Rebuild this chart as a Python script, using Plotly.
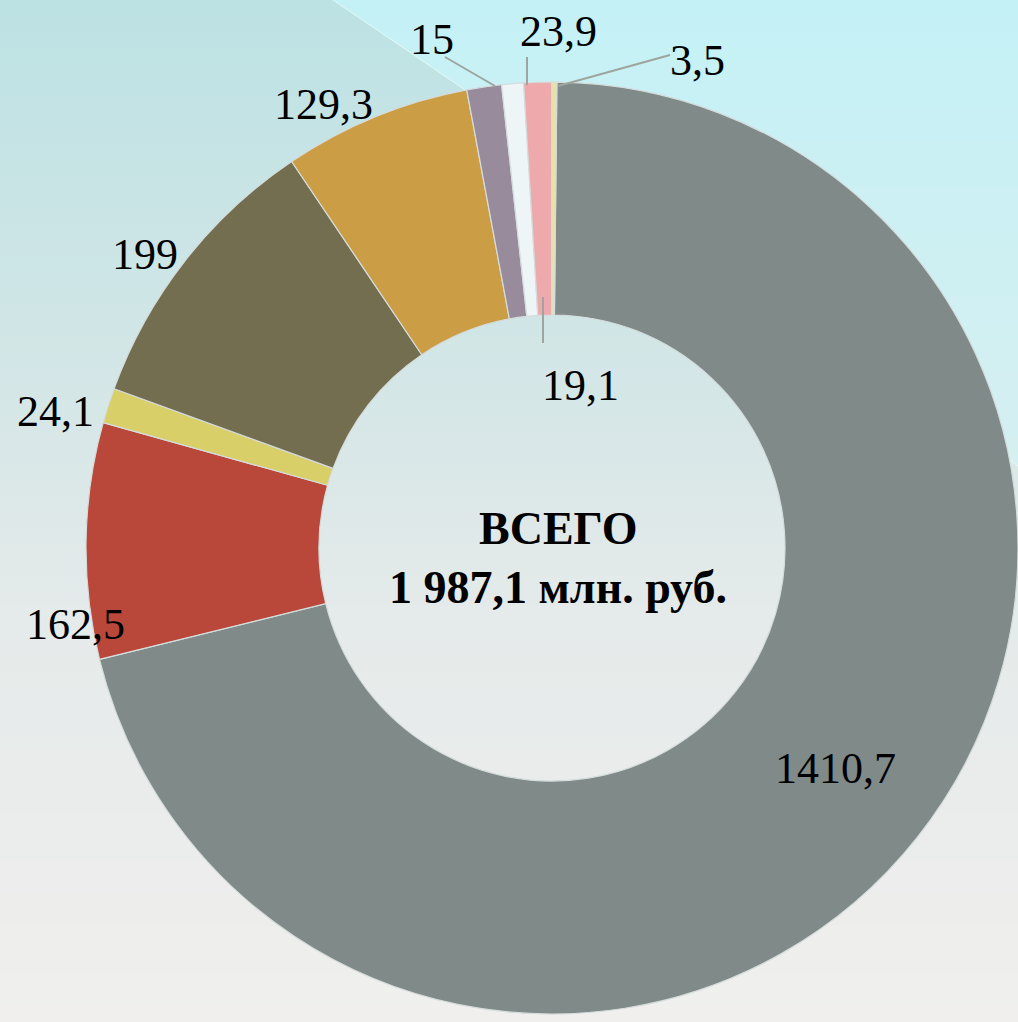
import plotly.graph_objects as go

# ---- data ----
categories = ["A", "B", "C", "D", "E", "F", "G", "H", "I"]
values = [1410.7, 162.5, 24.1, 199, 129.3, 23.9, 15, 19.1, 3.5]
colors = ["#7f8a89", "#b9483b", "#d8cf68", "#736e50", "#cb9e46",
          "#988b9c", "#eef5f7", "#eea9ac", "#e9e3a0"]
total_title = "ВСЕГО"
total_text = "1 987,1 млн. руб."

W, H = 1018, 1022
SERIF = "Liberation Serif, DejaVu Serif, Times New Roman, serif"

def fmt(v):
    s = ("%.1f" % v).rstrip("0").rstrip(".")
    return s.replace(".", ",")

def px(x):
    return x / W

def py(y):
    return 1 - y / H

def lerp(c1, c2, t):
    a = [int(c1[i:i + 2], 16) for i in (1, 3, 5)]
    b = [int(c2[i:i + 2], 16) for i in (1, 3, 5)]
    return "rgb(%d,%d,%d)" % tuple(round(a[k] + (b[k] - a[k]) * t) for k in range(3))

shapes = []
# vertical background gradient
n = 64
stops = [(0.0, "#bde2e4"), (0.3, "#cfe5e6"), (0.6, "#e5eaea"), (1.0, "#f0efed")]
for i in range(n):
    y0 = H * i / n
    y1 = H * (i + 1) / n + 1
    t = (i + 0.5) / n
    for j in range(len(stops) - 1):
        if stops[j][0] <= t <= stops[j + 1][0]:
            tt = (t - stops[j][0]) / (stops[j + 1][0] - stops[j][0])
            col = lerp(stops[j][1], stops[j + 1][1], tt)
            break
    shapes.append(dict(type="rect", xref="paper", yref="paper", x0=0, x1=1,
                       y0=py(y1), y1=py(y0), line=dict(width=0),
                       fillcolor=col, layer="below"))
# lighter cyan triangle at top right
x_start, slope = 333, 0.68
y_end = (W - x_start) * slope
m = 30
for i in range(m):
    y0 = y_end * i / m
    y1 = y_end * (i + 1) / m
    t = (i + 0.5) / m
    col = lerp("#c4f1f6", "#d6eff1", t)
    xa = x_start + y0 / slope
    xb = x_start + y1 / slope
    path = "M %f %f L %f %f L %f %f L %f %f Z" % (
        px(xa), py(y0), px(W), py(y0), px(W), py(y1 + 0.5), px(xb), py(y1 + 0.5))
    shapes.append(dict(type="path", xref="paper", yref="paper", path=path,
                       line=dict(width=0), fillcolor=col, layer="below"))
shapes.append(dict(type="line", xref="paper", yref="paper",
                   x0=px(x_start), y0=py(0), x1=px(W), y1=py(y_end),
                   line=dict(color="rgba(235,250,250,0.8)", width=1), layer="below"))

# pie geometry (pixels)
cx, cy, R = 552, 548, 466

fig = go.Figure()
fig.add_trace(go.Pie(
    labels=categories, values=values, sort=False, direction="clockwise",
    rotation=0.6, hole=0.5,
    marker=dict(colors=colors, line=dict(color="#d5dcdc", width=1.2)),
    textinfo="none", hoverinfo="label+value", showlegend=False,
    domain=dict(x=[px(cx - R), px(cx + R)], y=[py(cy + R), py(cy - R)]),
))

# label positions (pixel centers) and leader lines, per value index
label_pos = [(835, 768), (75, 624), (55, 411), (145, 254), (323, 105),
             (558, 31), (432, 39), (580, 386), (697, 61)]
leaders = {6: ((445, 57), (495, 86)), 7: ((543, 343), (543, 297)),
           5: ((527, 57), (527, 85)), 8: ((670, 55), (558, 86))}

annotations = []
for i, v in enumerate(values):
    x, y = label_pos[i]
    annotations.append(dict(x=px(x), y=py(y), xref="paper", yref="paper",
                            text=fmt(v), showarrow=False,
                            font=dict(family=SERIF, size=44, color="#000000"),
                            xanchor="center", yanchor="middle"))
for i, ((x0, y0), (x1, y1)) in leaders.items():
    shapes.append(dict(type="line", xref="paper", yref="paper",
                       x0=px(x0), y0=py(y0), x1=px(x1), y1=py(y1),
                       line=dict(color="#9ea59e", width=2)))

annotations.append(dict(x=px(558), y=py(528), xref="paper", yref="paper",
                        text="<b>%s</b>" % total_title, showarrow=False,
                        font=dict(family=SERIF, size=46, color="#000000"),
                        xanchor="center", yanchor="middle"))
annotations.append(dict(x=px(558), y=py(587), xref="paper", yref="paper",
                        text="<b>%s</b>" % total_text, showarrow=False,
                        font=dict(family=SERIF, size=46, color="#000000"),
                        xanchor="center", yanchor="middle"))

fig.update_layout(width=W, height=H, margin=dict(l=0, r=0, t=0, b=0),
                  paper_bgcolor="#eaeceb", plot_bgcolor="rgba(0,0,0,0)",
                  shapes=shapes, annotations=annotations)
fig.write_html("out.html", config={"displayModeBar": False},
               post_script="document.body.style.margin='0';document.body.style.overflow='hidden';")
